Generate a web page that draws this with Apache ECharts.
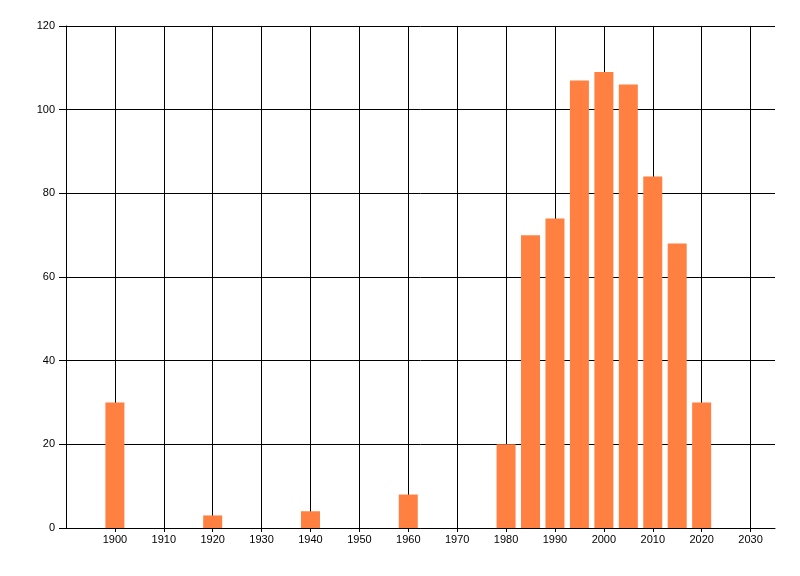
<!DOCTYPE html>
<html>
<head>
<meta charset="utf-8">
<script src="https://cdn.jsdelivr.net/npm/echarts@6/dist/echarts.min.js"></script>
<style>
  html, body { margin: 0; padding: 0; background: #fff; }
  #chart { width: 800px; height: 576px; }
</style>
</head>
<body>
<div id="chart"></div>
<script>
// years and counts
var years = [1900, 1920, 1940, 1960, 1980, 1985, 1990, 1995, 2000, 2005, 2010, 2015, 2020];
var counts = [30, 3, 4, 8, 20, 70, 74, 107, 109, 106, 84, 68, 30];
var xTicks = [1900, 1910, 1920, 1930, 1940, 1950, 1960, 1970, 1980, 1990, 2000, 2010, 2020, 2030];

var pts = [];
for (var i = 0; i < years.length; i++) {
    pts.push([years[i], counts[i]]);
}

var myChart = echarts.init(document.getElementById('chart'));
var labelFont = { fontFamily: 'Liberation Sans', fontSize: 11, color: '#000' };

var option = {
    animation: false,
    grid: { left: 66, right: 25, top: 26, bottom: 48 },
    xAxis: {
        type: 'value',
        min: 1890,
        max: 2035,
        interval: 10,
        axisLine: { show: true, lineStyle: { color: '#000', width: 1 } },
        axisTick: { show: true, length: 4, customValues: xTicks, lineStyle: { color: '#000' } },
        axisLabel: Object.assign({
            margin: 6,
            customValues: xTicks,
            formatter: function (v) { return String(v); }
        }, labelFont),
        splitLine: { show: true, lineStyle: { color: '#000', width: 1 } }
    },
    yAxis: {
        type: 'value',
        min: 0,
        max: 120,
        interval: 20,
        axisLine: { show: true, lineStyle: { color: '#000', width: 1 } },
        axisTick: { show: true, length: 7, lineStyle: { color: '#000' } },
        axisLabel: Object.assign({ margin: 11 }, labelFont),
        splitLine: { show: true, lineStyle: { color: '#000', width: 1 } }
    },
    series: [{
        type: 'bar',
        data: pts,
        barWidth: 19,
        itemStyle: { color: '#FF8040' }
    }]
};
myChart.setOption(option);
</script>
</body>
</html>
